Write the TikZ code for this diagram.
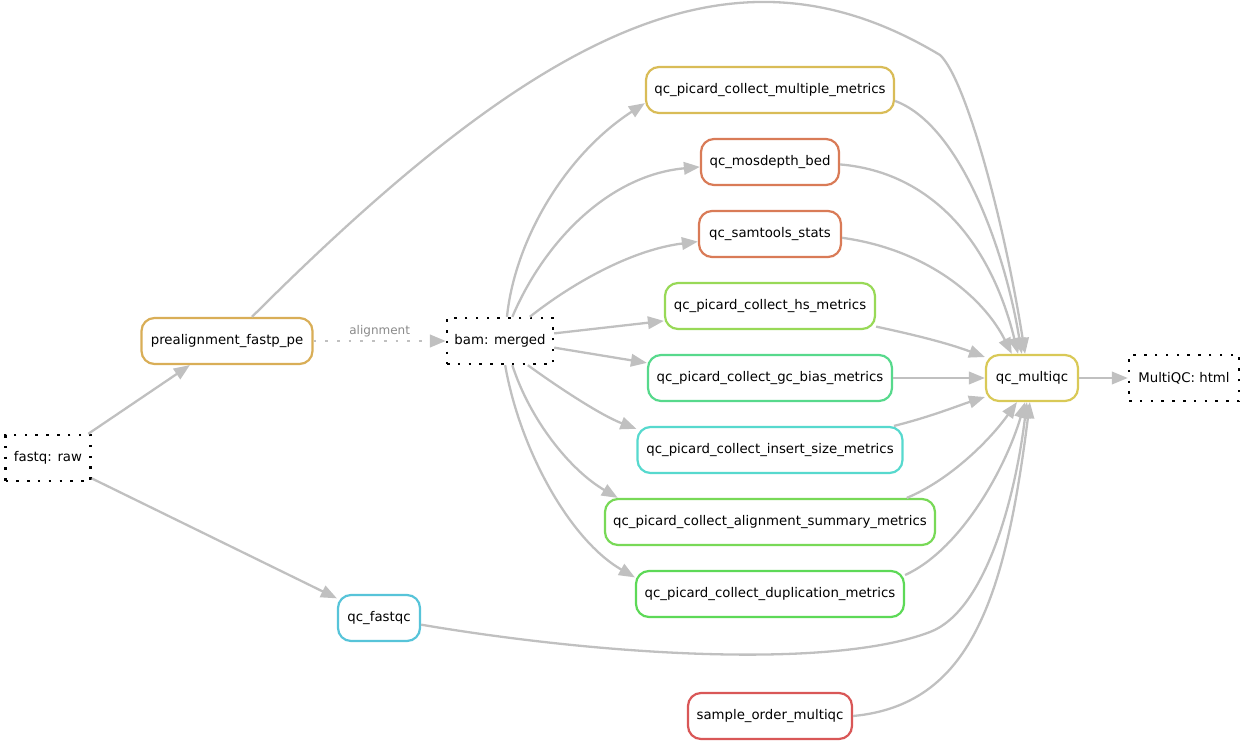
\documentclass[tikz,border=0pt]{standalone}
\usepackage{fontspec}
\setmainfont{DejaVu Sans}
\usetikzlibrary{arrows.meta}
\definecolor{cpre}{HTML}{D9AE57}
\definecolor{cmm}{HTML}{D9BC57}
\definecolor{cmqc}{HTML}{D9C957}
\definecolor{cmos}{HTML}{D97B57}
\definecolor{chs}{HTML}{98D957}
\definecolor{cgc}{HTML}{57D98C}
\definecolor{cins}{HTML}{57D9CE}
\definecolor{caln}{HTML}{78D957}
\definecolor{cdup}{HTML}{5DD957}
\definecolor{cfqc}{HTML}{57C4D9}
\definecolor{csam}{HTML}{D95757}
\definecolor{edgegray}{HTML}{C0C0C0}
\definecolor{labelgray}{HTML}{8A8A8A}
\begin{document}
\begin{tikzpicture}[x=1pt,y=-1pt,
  rulebox/.style={draw=#1, line width=2.2pt, rounded corners=13pt, fill=white,
    minimum height=46pt, inner sep=0pt, outer sep=1.1pt, font=\fontsize{13.3}{15}\selectfont},
  filebox/.style={draw=black, line width=2.5pt, dash pattern=on 2.5pt off 8.3pt,
    minimum height=46pt, inner sep=0pt, outer sep=1.2pt, font=\fontsize{13.3}{15}\selectfont},
  edge/.style={draw=edgegray, line width=2.3pt, -{Triangle[length=16pt,width=12.5pt]}},
  dotedge/.style={draw=edgegray, line width=2.7pt, dash pattern=on 2.7pt off 9pt,
    -{Triangle[length=16pt,width=12.5pt]}},
  elabel/.style={font=\fontsize{12}{14}\selectfont, text=labelgray, inner sep=0pt},
]
\useasboundingbox (0,0) rectangle (1245,746);

\node[filebox, minimum width=85pt] (fq) at (48,458) {fastq: raw};
\node[rulebox=cpre, minimum width=171pt] (pre) at (227,341) {prealignment\_fastp\_pe};
\node[filebox, minimum width=106pt] (bam) at (500,341) {bam: merged};
\node[rulebox=cmm, minimum width=248pt] (mm) at (770,90) {qc\_picard\_collect\_multiple\_metrics};
\node[rulebox=cmos, minimum width=138pt] (mos) at (770,162) {qc\_mosdepth\_bed};
\node[rulebox=cmos, minimum width=142pt] (sam) at (770,234) {qc\_samtools\_stats};
\node[rulebox=chs, minimum width=210pt] (hs) at (770,306) {qc\_picard\_collect\_hs\_metrics};
\node[rulebox=cgc, minimum width=244pt] (gc) at (770,378) {qc\_picard\_collect\_gc\_bias\_metrics};
\node[rulebox=cins, minimum width=265pt] (ins) at (770,450) {qc\_picard\_collect\_insert\_size\_metrics};
\node[rulebox=caln, minimum width=330pt] (aln) at (770,522) {qc\_picard\_collect\_alignment\_summary\_metrics};
\node[rulebox=cdup, minimum width=268pt] (dup) at (770,594) {qc\_picard\_collect\_duplication\_metrics};
\node[rulebox=cfqc, minimum width=82pt] (fqc) at (379,618) {qc\_fastqc};
\node[rulebox=csam, minimum width=164pt] (smp) at (770,716) {sample\_order\_multiqc};
\node[rulebox=cmqc, minimum width=92pt] (mqc) at (1032,378) {qc\_multiqc};
\node[filebox, minimum width=110pt] (html) at (1184,378) {MultiQC: html};

\coordinate (k1) at (940,55);
\coordinate (k2) at (930,632);

\draw[edge] (fq.31) -- (pre.213);
\draw[edge] (fq.-25) -- (fqc.155);
\draw[dotedge] (pre.east) -- node[elabel, midway, yshift=10pt] {alignment} (bam.west);
\draw[edge] (pre.44) .. controls (552,17) and (740,-65) .. (k1)
  .. controls (965,78) and (1003,215) .. (mqc.106);

\draw[edge] (bam.74) .. controls (515,240) and (565,155) .. (mm.186);
\draw[edge] (bam.63) .. controls (545,240) and (610,175) .. (mos.184);
\draw[edge] (bam.39) .. controls (570,285) and (630,250) .. (sam.186);
\draw[edge] (bam.8) -- (hs.188);
\draw[edge] (bam.-7) -- (gc.173);
\draw[edge] (bam.-41) .. controls (555,385) and (600,415) .. (ins.171);
\draw[edge] (bam.-63) .. controls (530,420) and (570,470) .. (aln.171);
\draw[edge] (bam.-78) .. controls (520,450) and (570,540) .. (dup.173);

\draw[edge] (mm.-5) .. controls (960,125) and (1005,250) .. (mqc.113);
\draw[edge] (mos.-2) .. controls (930,172) and (990,240) .. (mqc.120);
\draw[edge] (sam.-3) .. controls (930,250) and (985,300) .. (mqc.130);
\draw[edge] (hs.-11) .. controls (920,336) and (950,344) .. (mqc.156);
\draw[edge] (gc.east) -- (mqc.west);
\draw[edge] (ins.11) .. controls (930,417) and (960,405) .. (mqc.202);
\draw[edge] (aln.10) .. controls (950,480) and (990,440) .. (mqc.238);
\draw[edge] (dup.8) .. controls (960,550) and (1005,470) .. (mqc.254);
\draw[edge] (fqc.-9) .. controls (600,655) and (830,670) .. (k2)
  .. controls (985,611) and (1015,500) .. (mqc.258);
\draw[edge] (smp.east) .. controls (970,705) and (1005,600) .. (mqc.265);
\draw[edge] (mqc.east) -- (html.west);
\end{tikzpicture}
\end{document}
